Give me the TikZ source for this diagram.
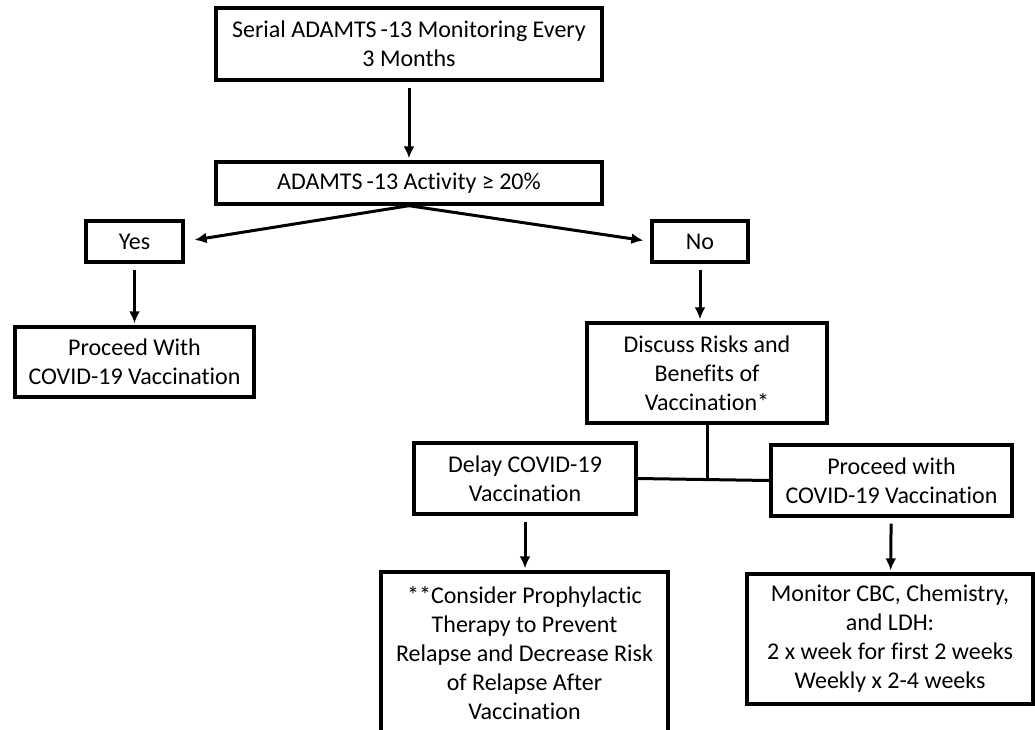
\documentclass[tikz,border=0pt]{standalone}
\usepackage{fontspec}
\setmainfont{Carlito}[Ligatures={NoCommon,NoContextual}]
\usetikzlibrary{arrows.meta,shapes}
\tikzstyle{stepbox} = [draw, line width=3.4pt, align=center, inner sep=2pt]
\tikzstyle{link} = [->, line width=3pt, shorten <=6pt, shorten >=2pt]
\tikzstyle{split} = [->, line width=3pt]

\begin{document}
\begin{tikzpicture}[x=1pt,y=-1pt,>={Latex[length=12pt,width=11pt]},font=\fontsize{24}{29}\selectfont]

    \useasboundingbox (0,0) rectangle (1035,729);
    \clip (0,0) rectangle (1035,729);

    %monitoring and test
    \node[stepbox,minimum width=386pt,minimum height=72pt] at (409,44) (serial) {Serial ADAMTS\,-13 Monitoring Every\\3 Months};
    \node[stepbox,minimum width=386pt,minimum height=42pt] at (409,183) (activity) {ADAMTS\,-13 Activity ≥ 20\%};
    \path[link] (serial) edge (activity);

    %yes branch
    \node[stepbox,minimum width=97pt,minimum height=41pt] at (134.5,241.5) (yes) {Yes};
    \node[stepbox,minimum width=239pt,minimum height=70pt] at (134.5,362) (proceedA) {Proceed With\\COVID-19 Vaccination};
    \draw[split,shorten >=10pt] (activity.south) -- (yes.east);
    \path[link] (yes) edge (proceedA);

    %no branch
    \node[stepbox,minimum width=96pt,minimum height=41pt] at (700,241.5) (no) {No};
    \node[stepbox,minimum width=240pt,minimum height=100pt] at (707,373) (discuss) {Discuss Risks and\\Benefits of\\Vaccination*};
    \draw[split,shorten >=7pt] (activity.south) -- (no.west);
    \draw[link] (no.south) -- (no.south |- discuss.north);

    %choice after discussion
    \node[stepbox,minimum width=222pt,minimum height=71pt] at (525,478.5) (delay) {Delay COVID-19\\Vaccination};
    \node[stepbox,minimum width=241pt,minimum height=71pt] at (891.5,480.5) (proceedB) {Proceed with\\COVID-19 Vaccination};
    \draw[line width=3pt] (discuss.south) -- (discuss.south |- delay.east);
    \draw[line width=3pt] (delay.east) -- (proceedB.west);

    %follow up
    \node[stepbox,minimum width=287pt,minimum height=162pt] at (524.5,653) (consider) {**Consider Prophylactic\\Therapy to Prevent\\Relapse and Decrease Risk\\of Relapse After\\Vaccination};
    \node[stepbox,minimum width=286pt,minimum height=130pt] at (890,639) (monitor) {Monitor CBC, Chemistry,\\and LDH:\\2 x week for first 2 weeks\\Weekly x 2-4 weeks};
    \draw[link] (delay.south) -- (delay.south |- consider.north);
    \path[link] (proceedB) edge (monitor);

\end{tikzpicture}
\end{document}
